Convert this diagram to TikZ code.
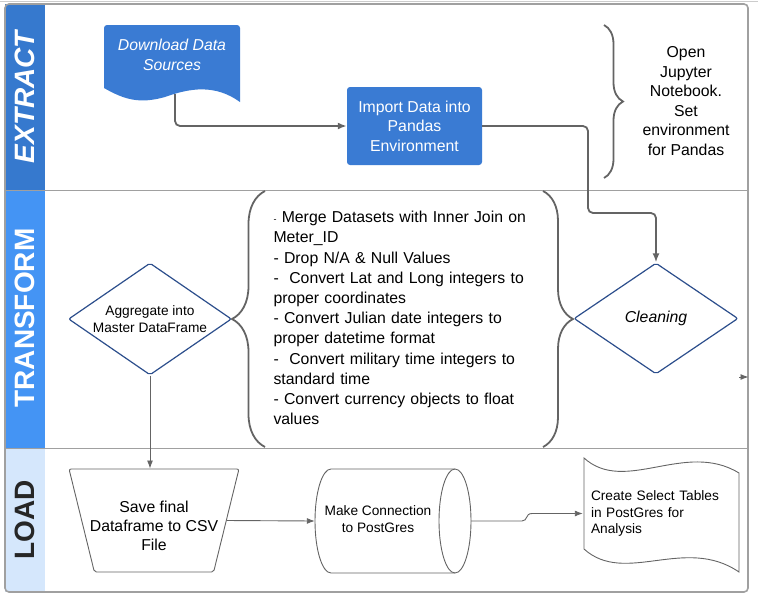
\documentclass[tikz,border=0pt]{standalone}
\usepackage{fontspec}
\setmainfont{Liberation Sans}
\usepackage{tikz}
\definecolor{extblue}{RGB}{54,121,206}
\definecolor{trfblue}{RGB}{68,148,244}
\definecolor{loadblue}{RGB}{213,231,252}
\definecolor{boxblue}{RGB}{58,123,211}
\definecolor{dmdblue}{RGB}{44,78,140}
\definecolor{linegray}{RGB}{100,100,100}
\definecolor{framegray}{RGB}{160,160,160}
\usetikzlibrary{arrows.meta}
\usetikzlibrary{shapes.geometric}
\usetikzlibrary{decorations.pathreplacing}
\tikzset{>={Latex[length=9pt,width=7pt]}}
\tikzstyle{bigtext} = [font=\fontsize{15.8}{19.6}\selectfont]
\tikzstyle{smalltext} = [font=\fontsize{13.7}{16.7}\selectfont]
\tikzstyle{lanetext} = [rotate=90, font=\fontsize{28}{30}\selectfont\bfseries]
\tikzstyle{diam} = [diamond, draw=dmdblue, line width=1.2pt, rounded corners=2pt,
    fill=white, inner sep=0pt, align=center, aspect=1.46]
\tikzstyle{conn} = [->, draw=linegray, line width=1.8pt, rounded corners=5pt]
\tikzstyle{thinconn} = [-{Latex[length=8pt,width=6pt]}, draw=linegray, line width=0.9pt]
\tikzstyle{curly} = [draw=linegray, line width=1.8pt, decorate]
\tikzstyle{outline} = [draw=linegray, line width=0.9pt]

\begin{document}
\begin{tikzpicture}
\begin{scope}[x=1pt,y=-1pt]
    \useasboundingbox (0,0) rectangle (758,598);
    % lanes
    \fill[extblue] (5,4) rectangle (45,190);
    \fill[trfblue] (5,190) rectangle (45,448);
    \fill[loadblue] (5,448) rectangle (45,592);
    \draw[gray!40, line width=1pt] (0,1.5) -- (758,1.5);
    \draw[framegray, line width=1.6pt, rounded corners=4pt] (5,4) rectangle (748,592);
    \draw[framegray, line width=1pt] (5,190) -- (748,190);
    \draw[framegray, line width=1pt] (5,448) -- (748,448);
    \node[lanetext, text=white, font=\fontsize{28}{30}\selectfont\bfseries\itshape] (hext) at (25,97) {EXTRACT};
    \node[lanetext, text=white] (htrf) at (25,318) {TRANSFORM};
    \node[lanetext, text=black!85] (hload) at (25,520) {LOAD};

    % extract
    \fill[boxblue] (240,102) .. controls (215,84) and (190,88) .. (165,97)
        .. controls (140,104) and (125,100) .. (104,88)
        [rounded corners=3pt] -- (104,25) -- (240,25) [sharp corners] -- cycle;
    \node[bigtext, text=white, align=center, font=\fontsize{15.8}{19.6}\selectfont\itshape] (dl) at (172,55) {Download Data\\Sources};
    \coordinate (dlout) at (175,94);
    \node[fill=boxblue, rounded corners=3pt, minimum width=135pt, minimum height=78pt,
        text=white, align=center, bigtext] (imp) at (414.5,126) {Import Data into\\Pandas\\Environment};
    \draw[conn] (dlout) |- (imp.west);
    \draw[curly, decoration={brace, amplitude=19pt}] (604,25) -- (604,178);
    \node[bigtext, align=center] (jup) at (686,101) {Open\\Jupyter\\Notebook.\\Set\\environment\\for Pandas};

    % transform
    \node[diam, minimum width=163pt, minimum height=112pt, smalltext] (agg) at (150,319) {Aggregate into\\Master DataFrame};
    \node[diam, minimum width=164pt, minimum height=111pt, font=\fontsize{15.8}{19.6}\selectfont\itshape] (clean) at (656,318.5) {Cleaning};
    \draw[conn] (imp.east) -| (588,213) -| (clean.north);
    \draw[curly, decoration={brace, amplitude=33pt}] (265,447) -- (265,191);
    \draw[curly, decoration={brace, amplitude=30pt}] (543,191) -- (543,447);
    \node[bigtext, font=\fontsize{15.8}{20.2}\selectfont, align=left, text width=280pt, anchor=west] (steps) at (270,318)
        {{\small -} Merge Datasets with Inner Join on\\Meter\_ID\\- Drop N/A \& Null Values\\-~ Convert Lat and Long integers to\\proper coordinates\\- Convert Julian date integers to\\proper datetime format\\-~ Convert military time integers to\\standard time\\- Convert currency objects to float\\values};
    \coordinate (stub) at (739,377);
    \draw[thinconn] (stub) -- (748.5,377);

    % load
    \node[trapezium, trapezium angle=78, shape border rotate=180, trapezium stretches=true,
        outline, rounded corners=2pt, minimum width=170pt, minimum height=103pt] (save) at (154,520.5) {};
    \node[bigtext, font=\fontsize{15.8}{19}\selectfont, align=center] (savetxt) at (154,526) {Save final\\Dataframe to CSV\\File};
    \node[inner sep=0pt, minimum width=156pt, minimum height=104pt] (pg) at (393,521) {};
    \draw[outline] (455,469) -- (331,469) .. controls (322.2,469) and (315,492.3) .. (315,521)
        .. controls (315,549.7) and (322.2,573) .. (331,573) -- (455,573);
    \draw[outline] (455,521) ellipse [x radius=16, y radius=52];
    \node[smalltext, align=center] (pgtxt) at (378,519) {Make Connection\\to PostGres};
    \draw[outline] (584,458) .. controls (625,495) and (685,440) .. (739,473)
        -- (739,572) .. controls (685,535) and (625,586) .. (584,549) -- cycle;
    \node[smalltext, minimum width=156pt, text width=140pt, inner sep=0pt, align=left] (create) at (661,513.5)
        {Create Select Tables\\in PostGres for\\Analysis};
    \draw[thinconn] (agg.south) -- (agg.south |- save.north);
    \draw[thinconn] (save.east) -- (pg.west);
    \draw[thinconn] (pg.east) -- (522,521) .. controls (528,521) and (525,513.5) .. (532,513.5) -- (create.west);
\end{scope}
\end{tikzpicture}
\end{document}
